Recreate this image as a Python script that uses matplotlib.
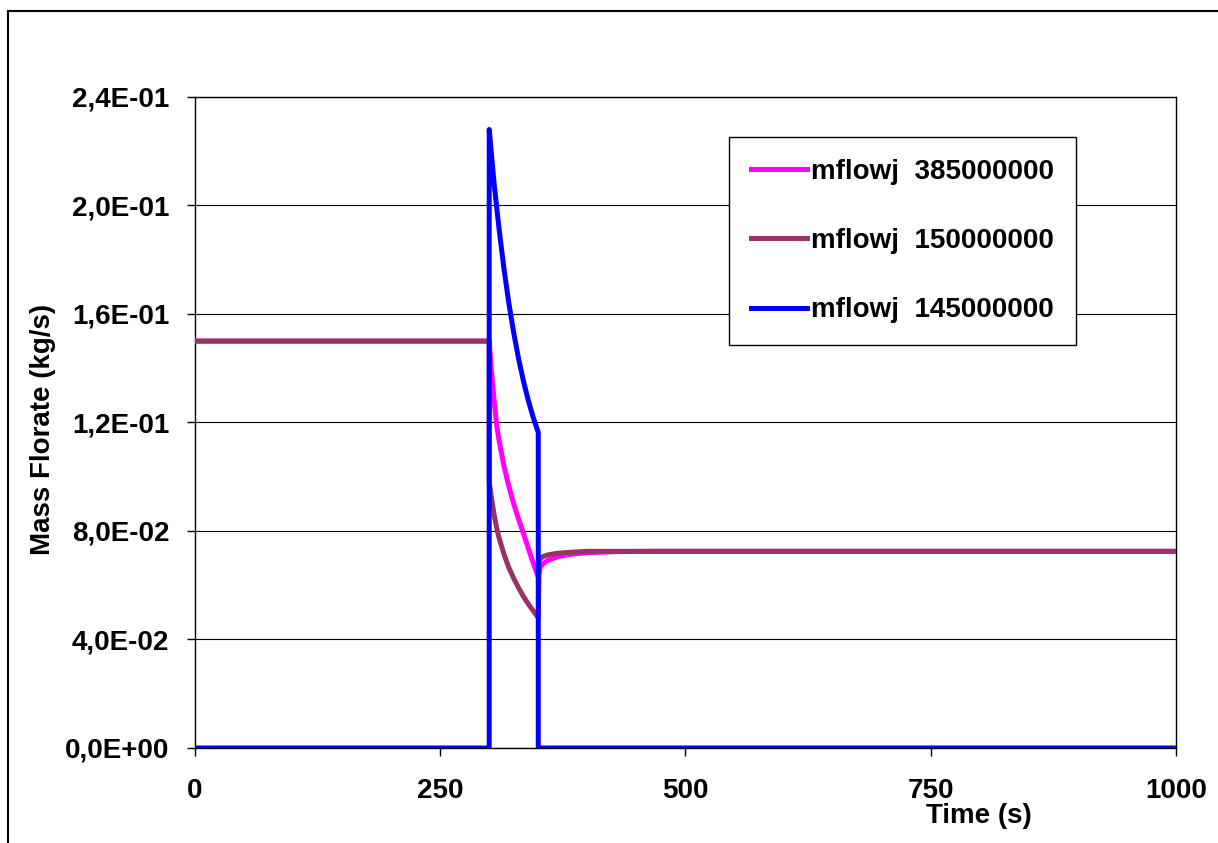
import matplotlib.pyplot as plt
from matplotlib.ticker import FuncFormatter, MultipleLocator

# time (s) and mass flow rate (kg/s)
t_385 = [0, 300, 302, 305, 308, 310, 315, 320, 325, 330, 335, 340, 345, 350,
         352, 355, 360, 370, 380, 400, 430, 470, 1000]
m_385 = [0.150, 0.150, 0.140, 0.128, 0.118, 0.1135, 0.104, 0.0965, 0.090, 0.0843, 0.079, 0.0735, 0.068, 0.063,
         0.0667, 0.0680, 0.0692, 0.0705, 0.0713, 0.0720, 0.0724, 0.0725, 0.0725]

t_150 = [0, 300, 300, 302, 305, 308, 310, 315, 320, 325, 330, 335, 340, 345, 350,
         351, 355, 360, 370, 385, 400, 1000]
m_150 = [0.150, 0.150, 0.098, 0.093, 0.086, 0.0805, 0.0775, 0.0715, 0.0665, 0.0625, 0.059, 0.0558, 0.053,
         0.0505, 0.048, 0.0695, 0.0706, 0.0712, 0.0718, 0.0722, 0.0725, 0.0725]

t_145 = [0, 300, 300, 305, 310, 315, 320, 325, 330, 335, 340, 345, 350, 350, 1000]
m_145 = [0.0, 0.0, 0.228, 0.208, 0.1915, 0.1768, 0.164, 0.153, 0.1434, 0.1351, 0.1279, 0.1217, 0.1163,
         0.0, 0.0]

labels = ["mflowj  385000000", "mflowj  150000000", "mflowj  145000000"]
colors = ["#FF00FF", "#993366", "#0000FF"]

plt.rcParams['font.family'] = ['Liberation Sans', 'DejaVu Sans']
plt.rcParams['font.weight'] = 'bold'

fig = plt.figure(figsize=(12.18, 8.43), dpi=100)
ax = fig.add_axes([0.160, 0.1127, 0.8055, 0.7723])

# outer chart border
fig.add_artist(plt.Line2D([8 / 1218, 8 / 1218], [0, 1 - 11 / 843], color='black', lw=1.5,
                          transform=fig.transFigure))
fig.add_artist(plt.Line2D([8 / 1218, 1], [1 - 11 / 843, 1 - 11 / 843], color='black', lw=1.5,
                          transform=fig.transFigure))

for t, m, lab, c in zip([t_385, t_150, t_145], [m_385, m_150, m_145], labels, colors):
    ax.plot(t, m, color=c, lw=3.6, label=lab, solid_joinstyle='round', zorder=3)

ax.set_xlim(0, 1000)
ax.set_ylim(0, 0.24)
ax.xaxis.set_major_locator(MultipleLocator(250))
ax.yaxis.set_major_locator(MultipleLocator(0.04))
ax.yaxis.set_major_formatter(FuncFormatter(lambda v, p: f"{v:.1E}".replace('.', ',')))
ax.grid(axis='y', color='black', lw=0.8)
ax.set_axisbelow(True)

for s in ax.spines.values():
    s.set_color('black')
    s.set_linewidth(1.0)

ax.tick_params(axis='y', direction='out', length=5.5, width=1, pad=13, labelsize=20)
ax.tick_params(axis='x', direction='out', length=5.5, width=1, pad=16, labelsize=20)

ax.set_xlabel("Time (s)", fontsize=20, fontweight='bold')
ax.xaxis.set_label_coords(0.799, -0.105)
ax.xaxis.label.set_va('center')
ax.set_ylabel("Mass Florate (kg/s)", fontsize=20, fontweight='bold')
ax.yaxis.set_label_coords(-0.155, 0.49)
ax.yaxis.label.set_va('center')

leg = ax.legend(loc='upper right', bbox_to_anchor=(0.898, 0.9386), fontsize=20,
                frameon=True, fancybox=False, edgecolor='black', framealpha=1,
                labelspacing=1.55, handlelength=2.0, handletextpad=0.15,
                borderpad=0.8, borderaxespad=0)
leg.get_frame().set_linewidth(1.0)

fig.savefig("out.png", dpi=100)
